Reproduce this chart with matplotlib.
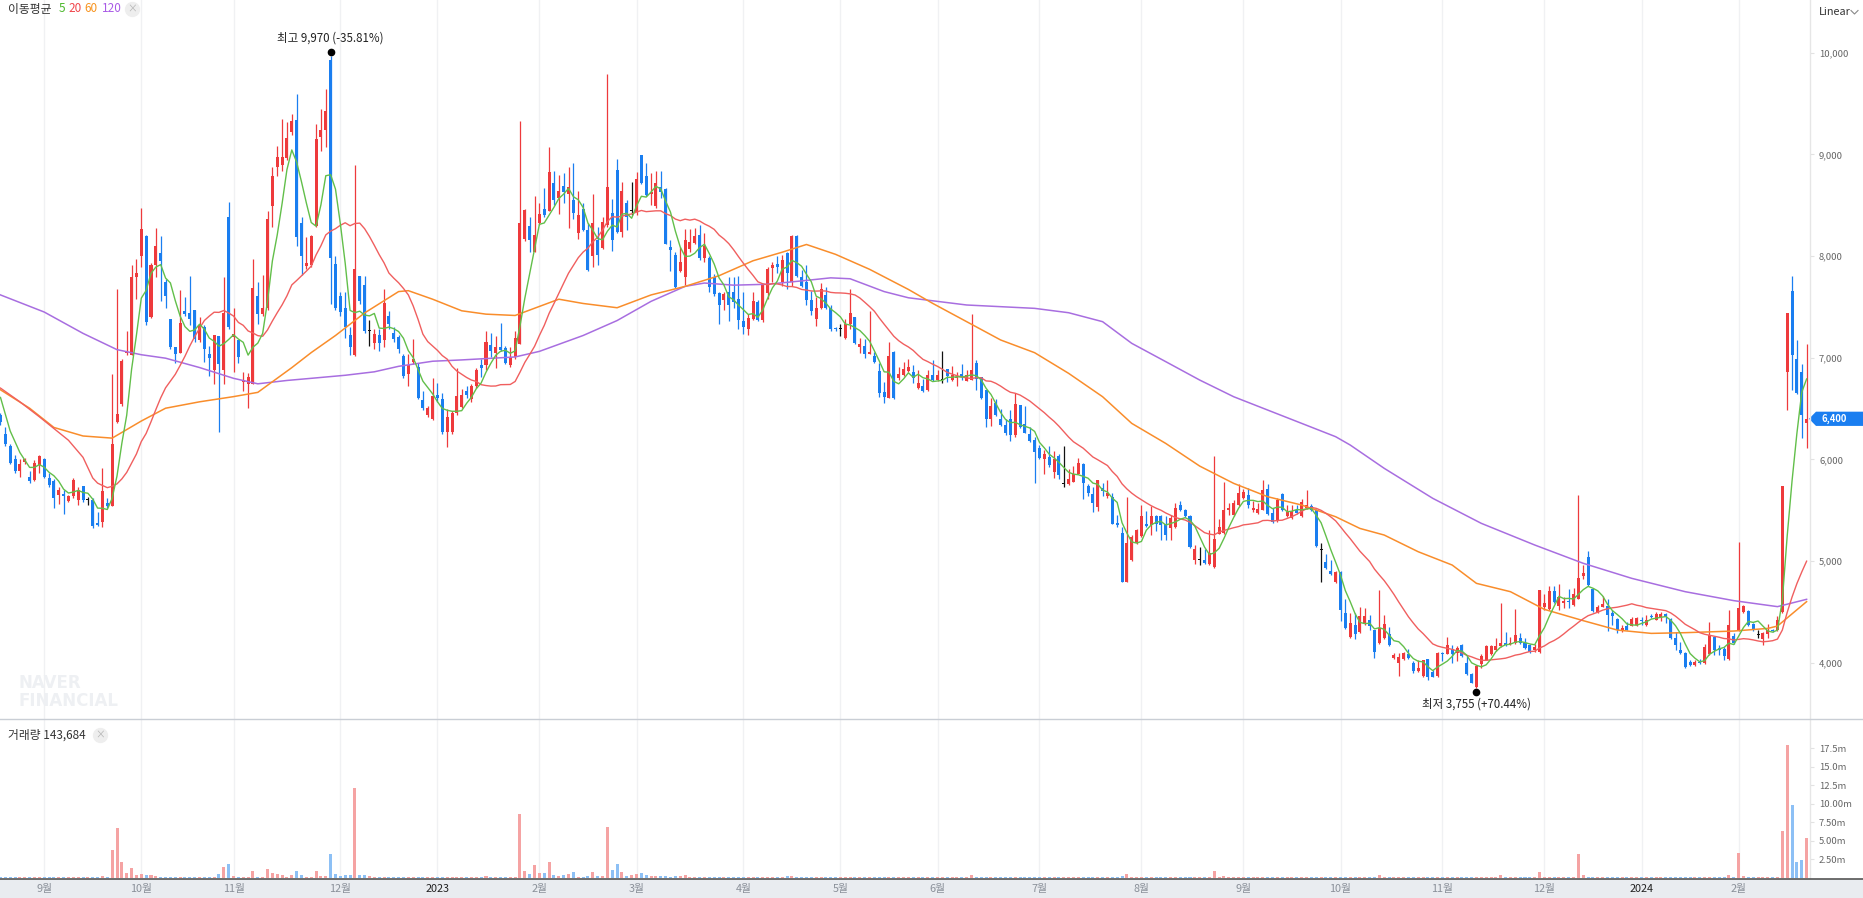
# -*- coding: utf-8 -*-
import numpy as np
import pandas as pd
import matplotlib
matplotlib.use('Agg')
import matplotlib.pyplot as plt
from matplotlib.lines import Line2D
from matplotlib.patches import Polygon
from matplotlib.transforms import blended_transform_factory, offset_copy
from matplotlib.ticker import FuncFormatter

plt.rcParams['font.family'] = ['Noto Sans CJK KR', 'DejaVu Sans']

# daily candles, Aug 2022 - Feb 2024 (KRW)
opens = [
    6440, 6250, 6130, 6000, 5890, 5980, 5830, 5800, 5950, 6000,
    5820, 5790, 5650, 5660, 5590, 5640, 5600, 5740, 5600, 5600,
    5380, 5390, 5570, 5540, 6370, 6550, 7050, 7030, 7790, 8000,
    8200, 7400, 7910, 8030, 7750, 7380, 7110, 7050, 7460, 7440,
    7470, 7170, 7300, 7040, 6880, 7210, 6880, 8380, 7200, 7170,
    6760, 6740, 6740, 7610, 7430, 7490, 8490, 8880, 8900, 8960,
    9220, 9340, 8330, 7900, 7910, 8300, 9170, 9240, 9930, 7920,
    7610, 7490, 7220, 7030, 7800, 7720, 7260, 7150, 7220, 7170,
    7410, 7240, 7200, 7020, 6840, 6960, 6910, 6580, 6440, 6400,
    6630, 6590, 6270, 6270, 6460, 6520, 6670, 6590, 6720, 6930,
    6930, 7130, 7050, 7110, 7100, 6930, 7010, 7140, 8170, 8300,
    8040, 8330, 8460, 8440, 8720, 8570, 8690, 8610, 8550, 8230,
    8460, 8260, 8000, 8160, 8080, 8310, 8420, 8850, 8240, 8520,
    8440, 8430, 8990, 8790, 8610, 8490, 8680, 8660, 8090, 8010,
    7850, 7790, 8070, 8130, 8210, 7980, 7980, 7790, 7640, 7570,
    7650, 7650, 7580, 7360, 7280, 7380, 7550, 7370, 7640, 7880,
    7920, 7750, 8030, 7750, 8200, 7790, 7750, 7570, 7380, 7490,
    7620, 7490, 7290, 7280, 7190, 7330, 7400, 7110, 7120, 7040,
    7020, 6870, 6660, 6600, 7060, 6800, 6830, 6870, 6860, 6700,
    6720, 6680, 6830, 6780, 6780, 6890, 6780, 6800, 6840, 6770,
    6780, 6950, 6810, 6680, 6400, 6560, 6400, 6340, 6400, 6240,
    6540, 6350, 6250, 6190, 6110, 6000, 6020, 5880, 6030, 5760,
    5760, 5780, 5860, 5960, 5740, 5660, 5530, 5720, 5640, 5630,
    5380, 5280, 4800, 5010, 5180, 5250, 5370, 5360, 5440, 5440,
    5370, 5330, 5340, 5550, 5500, 5440, 5010, 5010, 5010, 4970,
    4940, 5270, 5280, 5500, 5450, 5550, 5620, 5650, 5500, 5470,
    5500, 5710, 5470, 5400, 5660, 5440, 5420, 5500, 5440, 5520,
    5540, 5500, 5110, 4990, 4900, 4800, 4890, 4490, 4250, 4370,
    4300, 4380, 4420, 4320, 4200, 4240, 4280, 4050, 4000, 4040,
    4090, 4000, 3920, 3870, 4040, 3910, 3870, 4100, 4090, 4140,
    4100, 4180, 4000, 3890, 3760, 3990, 4030, 4090, 4130, 4170,
    4200, 4185, 4200, 4240, 4200, 4180, 4130, 4110, 4550, 4530,
    4710, 4560, 4590, 4610, 4570, 4630, 4850, 5040, 4730, 4500,
    4550, 4560, 4490, 4430, 4310, 4360, 4360, 4370, 4420, 4370,
    4460, 4420, 4450, 4480, 4430, 4240, 4130, 4100, 4010, 3980,
    4010, 4000, 4090, 4250, 4140, 4140, 4040, 4260, 4320, 4500,
    4510, 4380, 4270, 4230, 4280, 4320, 4320, 4500, 6860, 7660,
    6990, 6860, 6360,
]
highs = [
    6460, 6315, 6150, 6040, 6000, 6010, 5890, 5990, 6040, 6010,
    5870, 5810, 5730, 5700, 5650, 5820, 5730, 5740, 5630, 5620,
    5480, 5920, 5620, 6840, 7680, 6990, 7260, 7910, 7970, 8470,
    8210, 7930, 8280, 8200, 7770, 7380, 7110, 7670, 7600, 7800,
    7470, 7400, 7320, 7120, 7220, 7210, 7790, 8530, 7490, 7170,
    6860, 6850, 7970, 7750, 7810, 8440, 8880, 9080, 9350, 9320,
    9400, 9590, 8380, 8190, 8210, 9300, 9450, 9640, 9970, 8000,
    7650, 7650, 7300, 8900, 7800, 7800, 7370, 7280, 7280, 7680,
    7460, 7300, 7220, 7040, 7040, 7180, 6950, 6670, 6530, 6800,
    6750, 6650, 6500, 6480, 6900, 6690, 6720, 6740, 6900, 6990,
    7260, 7240, 7210, 7340, 7120, 7110, 7260, 9330, 8460, 8380,
    8590, 8520, 8670, 9070, 8840, 8800, 8820, 8880, 8920, 8640,
    8520, 8330, 8610, 8290, 8380, 9790, 8560, 8950, 8730, 8550,
    8730, 8830, 8990, 8920, 8820, 8840, 8840, 8670, 8160, 8040,
    8090, 8270, 8270, 8280, 8310, 8230, 8000, 7820, 7650, 7650,
    7790, 7790, 7800, 7650, 7430, 7650, 7570, 7730, 7890, 7940,
    8000, 8010, 8040, 8210, 8210, 7860, 7910, 7660, 7600, 7740,
    7700, 7520, 7300, 7330, 7380, 7680, 7400, 7190, 7180, 7460,
    7060, 6950, 6760, 7160, 7070, 6910, 6960, 6990, 6930, 6880,
    6790, 6880, 6980, 6880, 7070, 6890, 6920, 6860, 6940, 6880,
    7430, 6980, 6810, 6680, 6600, 6590, 6500, 6400, 6490, 6650,
    6540, 6530, 6320, 6220, 6140, 6090, 6130, 6080, 6050, 6130,
    5910, 5940, 6010, 5970, 5760, 5730, 5800, 5770, 5800, 5670,
    5450, 5340, 5630, 5260, 5320, 5550, 5490, 5540, 5450, 5450,
    5440, 5450, 5570, 5590, 5510, 5450, 5160, 5140, 5120, 5310,
    6030, 5410, 5780, 5570, 5600, 5760, 5710, 5720, 5590, 5570,
    5800, 5760, 5520, 5620, 5670, 5550, 5550, 5550, 5610, 5700,
    5560, 5510, 5180, 5070, 5010, 4900, 4900, 4630, 4490, 4490,
    4550, 4540, 4470, 4320, 4720, 4470, 4350, 4100, 4100, 4110,
    4140, 4020, 4030, 4030, 4040, 3930, 4110, 4110, 4250, 4180,
    4170, 4190, 4070, 3900, 3980, 4090, 4180, 4180, 4240, 4590,
    4300, 4250, 4530, 4290, 4240, 4190, 4190, 4720, 4680, 4760,
    4760, 4780, 4650, 4730, 4740, 5650, 4960, 5100, 4740, 4570,
    4660, 4630, 4520, 4440, 4370, 4400, 4450, 4450, 4450, 4470,
    4480, 4500, 4500, 4490, 4440, 4300, 4210, 4110, 4030, 4030,
    4040, 4190, 4400, 4260, 4180, 4160, 4520, 4290, 5190, 4570,
    4520, 4390, 4320, 4300, 4380, 4330, 4460, 5740, 7440, 7800,
    7170, 6940, 7140,
]
lows = [
    6340, 6130, 5960, 5870, 5830, 5960, 5770, 5790, 5870, 5820,
    5730, 5520, 5560, 5460, 5580, 5620, 5550, 5580, 5550, 5330,
    5350, 5340, 5520, 5540, 6360, 6530, 7030, 7030, 7580, 7890,
    7320, 7390, 7790, 7560, 7490, 7090, 6950, 7050, 7410, 7320,
    7160, 7160, 6960, 6820, 6740, 6270, 6740, 7280, 6860, 6950,
    6670, 6510, 6740, 7330, 7410, 7470, 8290, 8790, 8840, 8940,
    9190, 8100, 7810, 7870, 7890, 8290, 9030, 9070, 7530, 7470,
    7410, 7190, 7030, 7020, 7530, 7240, 7120, 7090, 7070, 7110,
    7280, 7160, 7050, 6800, 6720, 6940, 6590, 6490, 6420, 6390,
    6570, 6250, 6120, 6250, 6440, 6510, 6600, 6570, 6700, 6810,
    6880, 7010, 6900, 7070, 6940, 6910, 6990, 7140, 8150, 8040,
    8040, 8310, 8380, 8440, 8500, 8410, 8520, 8280, 8360, 8170,
    8250, 7850, 7890, 7910, 8070, 8290, 8050, 8230, 8190, 8260,
    8400, 8400, 8710, 8590, 8500, 8470, 8570, 8120, 7850, 7690,
    7840, 7720, 8040, 8120, 7960, 7940, 7650, 7610, 7330, 7470,
    7360, 7490, 7280, 7230, 7220, 7370, 7360, 7350, 7580, 7750,
    7830, 7710, 7680, 7710, 7790, 7700, 7520, 7420, 7310, 7480,
    7480, 7260, 7260, 7210, 7180, 7280, 7140, 7050, 7000, 7040,
    6950, 6610, 6560, 6600, 6590, 6780, 6820, 6860, 6750, 6690,
    6660, 6670, 6770, 6770, 6750, 6760, 6770, 6720, 6780, 6770,
    6780, 6680, 6590, 6320, 6330, 6430, 6330, 6240, 6180, 6220,
    6310, 6260, 6170, 5770, 6000, 5860, 5930, 5820, 5810, 5730,
    5750, 5780, 5860, 5610, 5640, 5480, 5490, 5640, 5620, 5370,
    5340, 4800, 4800, 5000, 5170, 5240, 5340, 5260, 5300, 5210,
    5210, 5210, 5330, 5490, 5430, 5130, 4970, 4960, 4970, 4960,
    4930, 5270, 5270, 5450, 5440, 5540, 5610, 5520, 5480, 5460,
    5500, 5450, 5380, 5390, 5490, 5430, 5410, 5460, 5430, 5510,
    5490, 5140, 4800, 4920, 4860, 4790, 4410, 4330, 4240, 4230,
    4290, 4370, 4320, 4050, 4190, 4230, 4170, 4040, 3870, 4030,
    4040, 3900, 3910, 3860, 3830, 3860, 3860, 4020, 4090, 4000,
    4020, 4060, 3880, 3800, 3755, 3950, 4030, 4080, 4120, 4160,
    4170, 4180, 4190, 4190, 4140, 4100, 4110, 4100, 4520, 4520,
    4590, 4520, 4540, 4540, 4560, 4630, 4820, 4760, 4500, 4490,
    4550, 4310, 4370, 4290, 4300, 4320, 4360, 4360, 4370, 4360,
    4440, 4420, 4410, 4390, 4230, 4130, 4090, 3950, 3970, 3970,
    3990, 3990, 4080, 4080, 4080, 4030, 4030, 4190, 4310, 4490,
    4360, 4310, 4240, 4180, 4240, 4300, 4310, 4490, 6490, 6680,
    6640, 6210, 6110,
]
closes = [
    6370, 6150, 5970, 5890, 5960, 6000, 5790, 5970, 6030, 5830,
    5750, 5620, 5700, 5640, 5640, 5800, 5700, 5600, 5600, 5350,
    5360, 5690, 5540, 6150, 6450, 6970, 7070, 7790, 7830, 8270,
    7350, 7910, 8100, 7950, 7610, 7110, 7040, 7340, 7430, 7380,
    7180, 7320, 7090, 7000, 7220, 6940, 7440, 7300, 7230, 7010,
    6780, 6810, 7690, 7430, 7490, 8360, 8790, 8970, 8970, 9160,
    9330, 8190, 8000, 7930, 8200, 9150, 9240, 9430, 7980, 7490,
    7450, 7300, 7110, 7870, 7560, 7260, 7260, 7230, 7150, 7540,
    7330, 7180, 7090, 6820, 6930, 6990, 6600, 6510, 6510, 6620,
    6600, 6270, 6420, 6460, 6620, 6630, 6630, 6720, 6880, 6900,
    7160, 7070, 7110, 7080, 6950, 7010, 7190, 8330, 8450, 8160,
    8210, 8410, 8400, 8830, 8550, 8640, 8630, 8680, 8420, 8400,
    8260, 7860, 8330, 8010, 8340, 8680, 8160, 8240, 8640, 8380,
    8440, 8760, 8720, 8600, 8630, 8720, 8630, 8120, 8060, 7700,
    7940, 8160, 8140, 8200, 7980, 8100, 7700, 7630, 7520, 7630,
    7520, 7550, 7370, 7300, 7390, 7560, 7370, 7730, 7870, 7910,
    7890, 7960, 7830, 8200, 7800, 7710, 7570, 7460, 7490, 7680,
    7490, 7280, 7280, 7280, 7330, 7440, 7150, 7140, 7040, 7050,
    6960, 6650, 6610, 7020, 6600, 6840, 6890, 6910, 6800, 6750,
    6670, 6830, 6780, 6830, 6780, 6820, 6830, 6810, 6810, 6830,
    6880, 6790, 6600, 6400, 6530, 6440, 6340, 6260, 6240, 6550,
    6320, 6260, 6180, 6070, 6010, 6050, 5950, 6000, 5850, 5760,
    5810, 5860, 5970, 5770, 5670, 5570, 5800, 5690, 5670, 5370,
    5360, 4800, 5180, 5240, 5310, 5440, 5350, 5440, 5370, 5360,
    5260, 5420, 5520, 5500, 5440, 5140, 5120, 5010, 4980, 5080,
    5220, 5340, 5500, 5520, 5570, 5670, 5680, 5550, 5520, 5510,
    5700, 5460, 5390, 5600, 5500, 5480, 5490, 5470, 5580, 5550,
    5500, 5150, 5110, 4930, 4870, 4890, 4520, 4340, 4390, 4280,
    4460, 4460, 4360, 4110, 4340, 4380, 4180, 4080, 4060, 4100,
    4050, 3920, 3950, 4030, 3860, 3860, 4100, 4090, 4180, 4090,
    4150, 4070, 3890, 3805, 3970, 4070, 4170, 4170, 4170, 4200,
    4180, 4200, 4270, 4200, 4150, 4110, 4160, 4720, 4590, 4710,
    4600, 4650, 4610, 4600, 4680, 4830, 4880, 4770, 4510, 4550,
    4580, 4470, 4460, 4320, 4340, 4320, 4430, 4440, 4410, 4420,
    4450, 4480, 4480, 4450, 4240, 4180, 4100, 3960, 3980, 4010,
    4000, 4160, 4270, 4130, 4130, 4070, 4370, 4200, 4540, 4560,
    4370, 4320, 4270, 4290, 4320, 4310, 4420, 5740, 7440, 7030,
    6650, 6440, 6400,
]
# volume in millions of shares
volumes = [
    0.15, 0.12, 0.10, 0.14, 0.10, 0.08, 0.09, 0.08, 0.10, 0.08,
    0.07, 0.09, 0.12, 0.10, 0.08, 0.09, 0.07, 0.08, 0.10, 0.12,
    0.10, 0.22, 0.15, 3.80, 6.80, 2.10, 0.70, 1.40, 0.40, 0.60,
    0.36, 0.36, 0.30, 0.12, 0.10, 0.10, 0.10, 0.10, 0.12, 0.10,
    0.10, 0.10, 0.08, 0.10, 0.10, 0.60, 1.50, 1.85, 0.30, 0.15,
    0.10, 0.12, 0.95, 0.15, 0.20, 1.26, 0.72, 0.54, 0.40, 0.20,
    0.36, 1.00, 0.36, 0.15, 0.15, 1.00, 0.30, 0.30, 3.30, 0.60,
    0.30, 0.45, 0.36, 12.2, 0.45, 0.40, 0.27, 0.15, 0.12, 0.15,
    0.12, 0.10, 0.10, 0.12, 0.10, 0.10, 0.12, 0.10, 0.08, 0.10,
    0.10, 0.12, 0.10, 0.08, 0.10, 0.10, 0.08, 0.10, 0.14, 0.10,
    0.22, 0.10, 0.08, 0.10, 0.10, 0.08, 0.15, 8.60, 1.00, 0.50,
    1.80, 0.72, 0.72, 2.20, 0.36, 0.30, 0.36, 0.60, 0.77, 0.20,
    0.20, 0.30, 0.85, 0.27, 0.27, 6.90, 1.10, 1.90, 0.80, 0.30,
    0.45, 0.60, 0.68, 0.40, 0.30, 0.30, 0.30, 0.30, 0.20, 0.27,
    0.30, 0.40, 0.15, 0.12, 0.15, 0.12, 0.10, 0.12, 0.10, 0.10,
    0.12, 0.10, 0.10, 0.12, 0.10, 0.10, 0.08, 0.12, 0.10, 0.10,
    0.10, 0.12, 0.27, 0.22, 0.10, 0.08, 0.10, 0.10, 0.12, 0.10,
    0.10, 0.08, 0.10, 0.08, 0.10, 0.10, 0.08, 0.10, 0.10, 0.12,
    0.10, 0.10, 0.08, 0.10, 0.12, 0.08, 0.10, 0.08, 0.10, 0.10,
    0.08, 0.10, 0.10, 0.08, 0.12, 0.10, 0.10, 0.08, 0.10, 0.10,
    0.36, 0.12, 0.10, 0.10, 0.10, 0.08, 0.10, 0.10, 0.08, 0.10,
    0.10, 0.08, 0.10, 0.12, 0.08, 0.10, 0.10, 0.08, 0.10, 0.10,
    0.08, 0.10, 0.10, 0.10, 0.08, 0.10, 0.10, 0.08, 0.10, 0.12,
    0.12, 0.22, 0.50, 0.12, 0.10, 0.10, 0.08, 0.10, 0.10, 0.10,
    0.10, 0.08, 0.10, 0.10, 0.08, 0.12, 0.10, 0.10, 0.08, 0.12,
    1.00, 0.14, 0.27, 0.10, 0.12, 0.10, 0.10, 0.08, 0.10, 0.10,
    0.12, 0.10, 0.08, 0.10, 0.10, 0.08, 0.10, 0.10, 0.08, 0.10,
    0.10, 0.12, 0.10, 0.10, 0.08, 0.10, 0.12, 0.10, 0.10, 0.08,
    0.10, 0.10, 0.08, 0.14, 0.36, 0.12, 0.10, 0.08, 0.10, 0.08,
    0.10, 0.08, 0.10, 0.10, 0.08, 0.08, 0.10, 0.08, 0.10, 0.08,
    0.08, 0.10, 0.10, 0.10, 0.12, 0.10, 0.08, 0.10, 0.10, 0.36,
    0.10, 0.08, 0.12, 0.08, 0.10, 0.08, 0.10, 0.77, 0.18, 0.12,
    0.10, 0.10, 0.08, 0.10, 0.12, 3.30, 0.36, 0.15, 0.12, 0.10,
    0.08, 0.10, 0.10, 0.08, 0.10, 0.08, 0.10, 0.08, 0.10, 0.08,
    0.08, 0.10, 0.08, 0.10, 0.10, 0.10, 0.08, 0.12, 0.10, 0.08,
    0.08, 0.10, 0.12, 0.10, 0.08, 0.10, 0.36, 0.10, 3.40, 0.27,
    0.12, 0.10, 0.08, 0.10, 0.10, 0.08, 0.14, 6.30, 18.0, 9.80,
    2.10, 2.40, 5.40,
]

# moving-average lines read off the chart where the window is not yet full
ma5_head_idx = [0, 2]
ma5_head_val = [6610, 6280]
ma20_head_idx = [0, 4, 8, 14, 17]
ma20_head_val = [6702, 6567, 6420, 6189, 6021]
ma60_idx = [0, 6, 11, 17, 23, 29, 34, 41, 48, 53, 60, 64, 69, 75, 82, 84, 89, 95, 100, 106,
            115, 120, 127, 134, 141, 148, 155, 161, 166, 172, 179, 187, 192, 199, 206, 213,
            220, 227, 233, 240, 247, 254, 261, 268, 275, 280, 285, 292, 299, 304, 311, 318,
            326, 333, 340, 347, 357, 364, 366, 372]
ma60_val = [6685, 6504, 6315, 6231, 6210, 6378, 6504, 6567, 6618, 6660, 6903, 7051, 7219, 7441,
            7651, 7660, 7576, 7462, 7429, 7416, 7576, 7534, 7492, 7618, 7702, 7807, 7954, 8038,
            8114, 8017, 7870, 7672, 7535, 7355, 7175, 7050, 6847, 6617, 6355, 6158, 5935, 5765,
            5634, 5552, 5437, 5322, 5257, 5093, 4962, 4782, 4700, 4526, 4415, 4323, 4290, 4297,
            4313, 4339, 4362, 4602]
ma120_idx = [0, 9, 17, 24, 29, 34, 41, 48, 53, 59, 64, 71, 77, 82, 89, 95, 106, 111, 120, 127,
             134, 141, 145, 151, 158, 165, 171, 175, 182, 187, 199, 213, 220, 227, 233, 240,
             247, 254, 261, 268, 275, 278, 285, 295, 305, 316, 326, 336, 347, 357, 366, 372]
ma120_val = [7618, 7450, 7240, 7080, 7030, 6996, 6904, 6798, 6744, 6777, 6798, 6828, 6862, 6916,
             6966, 6979, 7008, 7063, 7219, 7366, 7555, 7702, 7735, 7714, 7723, 7756, 7786, 7777,
             7651, 7590, 7519, 7486, 7443, 7355, 7142, 6962, 6781, 6617, 6486, 6355, 6224, 6142,
             5913, 5618, 5372, 5159, 4979, 4831, 4700, 4612, 4553, 4625]

month_labels = ['9월', '10월', '11월', '12월', '2023', '2월', '3월', '4월', '5월', '6월',
                '7월', '8월', '9월', '10월', '11월', '12월', '2024', '2월']
month_idx = [9, 29, 48, 70, 90, 111, 131, 153, 173, 193, 214, 235, 256, 276, 297, 318, 338, 358]

vol_ticks = [2.5, 5, 7.5, 10, 12.5, 15, 17.5]
vol_tick_labels = ['2.50m', '5.00m', '7.50m', '10.00m', '12.5m', '15.0m', '17.5m']

UP, DOWN = '#ee3a3c', '#1a7ef0'
UP_V, DOWN_V = '#f5a3a3', '#8dc0f5'

W, H = 1863, 898
fig = plt.figure(figsize=(W / 100, H / 100), dpi=100)
fig.patch.set_facecolor('white')


def fx(px):
    return px / W


def fy(py):
    return 1 - py / H


ax = fig.add_axes([0, fy(718), fx(1810), 718 / H])
axv = fig.add_axes([0, fy(878), fx(1810), 160 / H])

o = np.array(opens, float)
h = np.array(highs, float)
l = np.array(lows, float)
c = np.array(closes, float)
v = np.array(volumes, float)
x = np.arange(len(c))

cols = np.where(c > o, UP, np.where(c < o, DOWN, '#111111'))
vcols = np.where(c >= o, UP_V, DOWN_V)

for a in (ax, axv):
    a.set_xlim(-0.1, 372.7)
    for s in a.spines.values():
        s.set_visible(False)
    a.set_xticks([])
    for m in month_idx:
        a.axvline(m, color='#f0f1f3', lw=1, zorder=0)

# candles
ax.vlines(x, l, h, colors=cols, lw=0.9, zorder=2)
ax.bar(x, np.maximum(np.abs(c - o), 12), bottom=np.minimum(o, c), width=0.62,
       color=cols, linewidth=0, zorder=2)

# moving averages
cs = pd.Series(c)
ma5 = cs.rolling(5).mean().values
ma20 = cs.rolling(20).mean().values
ax.plot(ma120_idx, ma120_val, color='#a86ee0', lw=1.1, zorder=3)
ax.plot(ma60_idx, ma60_val, color='#f98d2b', lw=1.1, zorder=3)
ax.plot(ma20_head_idx + list(x[19:]), ma20_head_val + list(ma20[19:]), color='#f05f5f', lw=1.0, zorder=3)
ax.plot(ma5_head_idx + list(x[4:]), ma5_head_val + list(ma5[4:]), color='#62bf4a', lw=1.0, zorder=3)

ax.set_ylim(3458, 10518)
ax.yaxis.tick_right()
ax.set_yticks(range(4000, 10001, 1000))
ax.yaxis.set_major_formatter(FuncFormatter(lambda val, p: f'{int(val):,}'))
ax.tick_params(axis='y', length=3, color='#e2e2e2', labelsize=6.8, labelcolor='#666666', pad=3.5)

# high / low markers
last = c[-1]
imax = int(np.argmax(h))
imin = int(np.argmin(l))
ax.plot(imax, h[imax], 'o', ms=4.5, color='black', zorder=5,
        transform=offset_copy(ax.transData, fig=fig, y=3.5, units='dots'))
ax.plot(imin, l[imin], 'o', ms=4.5, color='black', zorder=5,
        transform=offset_copy(ax.transData, fig=fig, y=-4, units='dots'))
ax.annotate(f'최고 {int(h[imax]):,} ({(last / h[imax] - 1) * 100:+.2f}%)', xy=(imax, h[imax]),
            xytext=(0, 12.5), textcoords='offset points', ha='center', va='center',
            fontsize=8.3, color='#222222')
ax.annotate(f'최저 {int(l[imin]):,} ({(last / l[imin] - 1) * 100:+.2f}%)', xy=(imin, l[imin]),
            xytext=(0, -12), textcoords='offset points', ha='center', va='center',
            fontsize=8.3, color='#222222')

# volume
axv.bar(x, v, width=0.62, color=vcols, linewidth=0, zorder=2)
axv.set_ylim(0, 21.6)
axv.yaxis.tick_right()
axv.set_yticks(vol_ticks)
axv.set_yticklabels(vol_tick_labels)
axv.tick_params(axis='y', length=3, color='#e2e2e2', labelsize=6.8, labelcolor='#666666', pad=3.5)

# frame lines and bottom band
fig.add_artist(Line2D([fx(1810), fx(1810)], [fy(878), 1], color='#e6e6e6', lw=1, transform=fig.transFigure))
fig.add_artist(Line2D([0, 1], [fy(718.5)] * 2, color='#c9ced5', lw=1, transform=fig.transFigure))
fig.patches.append(plt.Rectangle((0, 0), 1, fy(879), transform=fig.transFigure,
                                 facecolor='#e9ecf0', edgecolor='none', zorder=0))
fig.add_artist(Line2D([0, 1], [fy(878.5)] * 2, color='#555555', lw=1.2, transform=fig.transFigure))

tb = blended_transform_factory(axv.transData, fig.transFigure)
for m, lab in zip(month_idx, month_labels):
    dark = lab.isdigit()
    fig.text(m, fy(889), lab, transform=tb, ha='center', va='center', fontsize=7.8,
             color='#222222' if dark else '#8a9099', zorder=5)

# current price tag
tp = blended_transform_factory(fig.transFigure, ax.transData)
half = 70
tag = Polygon([(fx(1809), last), (fx(1816), last + half), (1.0, last + half),
               (1.0, last - half), (fx(1816), last - half)],
              closed=True, transform=tp, facecolor='#1a7ef0', edgecolor='none', clip_on=False, zorder=6)
ax.add_patch(tag)
ax.text(fx(1821), last, f'{int(last):,}', transform=tp, ha='left', va='center', fontsize=6.8,
        color='white', fontweight='bold', clip_on=False, zorder=7)

# header texts
fig.text(fx(8), fy(9), '이동평균', fontsize=8.5, color='#333333', va='center', ha='left')
for px, txt, col in [(59, '5', '#4cb82c'), (68, '20', '#f0464b'), (84, '60', '#f7931e'), (102, '120', '#a95be6')]:
    fig.text(fx(px), fy(9), txt, fontsize=8.5, color=col, va='center', ha='left')
fig.text(fx(8), fy(735), '거래량 143,684', fontsize=8.5, color='#333333', va='center', ha='left')
for cx, cy in [(132, 9), (100, 735)]:
    fig.add_artist(Line2D([fx(cx)], [fy(cy)], marker='o', ms=10, color='#eeeeee', transform=fig.transFigure))
    fig.text(fx(cx), fy(cy), '×', fontsize=7, color='#b5b5b5', ha='center', va='center')

fig.text(fx(1819), fy(12), 'Linear', fontsize=7.8, color='#333333', va='center', ha='left')
fig.add_artist(Line2D([fx(1851), fx(1854.5), fx(1858)], [fy(10.5), fy(14), fy(10.5)],
                      color='#888888', lw=0.8, transform=fig.transFigure))

# watermark
fig.text(fx(18), fy(692), 'NAVER\nFINANCIAL', fontsize=12, fontweight='bold', color='#eef0f3',
         va='center', ha='left', linespacing=0.95, family='DejaVu Sans')

fig.savefig('out.png', dpi=100)
